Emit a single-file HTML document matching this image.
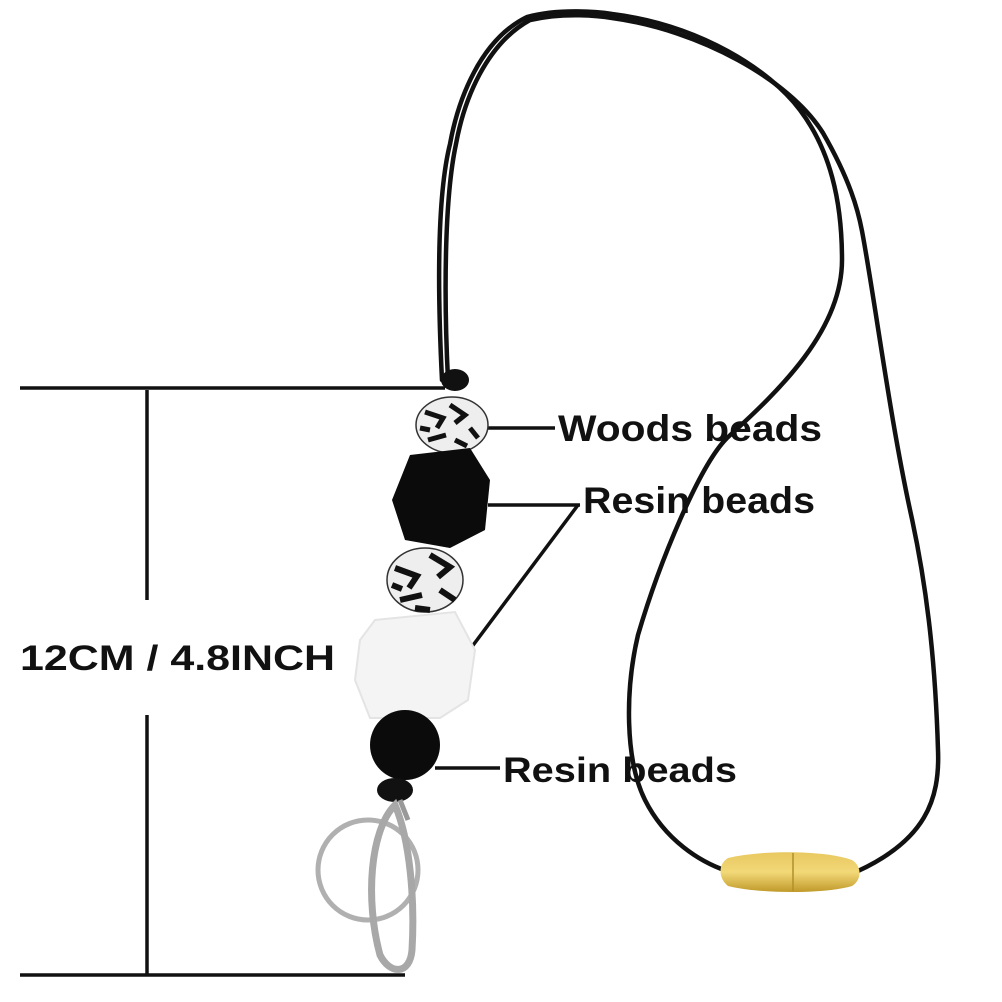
<!DOCTYPE html><html><head><style>body{margin:0;background:#fff}svg{display:block}text{font-family:"Liberation Sans",sans-serif;font-weight:bold;fill:#111}</style></head><body>
<svg width="1002" height="1002" viewBox="0 0 1002 1002">
<g fill="none" stroke="#111" stroke-width="4.5" stroke-linecap="round">
<path d="M442 380 C438 300 436 200 450 144 C458 100 480 40 527 17 C560 8 600 12 612 14 C700 25 770 70 800 110 C830 150 842 200 842 260 C842 330 780 390 727 438 C700 465 660 560 638 635 C625 690 625 760 645 800 C665 840 700 862 727 871"/>
<path d="M448 380 C444 300 444 200 456 144 C464 100 486 44 530 20 C565 12 600 16 612 18 C700 30 790 80 823 133 C850 180 858 210 862 231 C875 300 890 420 912 519 C925 580 935 650 938 750 C940 800 925 840 858 871"/>
</g>
<defs><linearGradient id="g" x1="0" y1="0" x2="0" y2="1"><stop offset="0" stop-color="#e8c860"/><stop offset="0.5" stop-color="#f2d878"/><stop offset="1" stop-color="#c09a2a"/></linearGradient></defs>
<path d="M728 858 C760 850 825 850 852 860 C862 866 862 880 852 886 C825 894 760 894 728 886 C718 878 718 864 728 858Z" fill="url(#g)"/>
<line x1="793" y1="853" x2="793" y2="891" stroke="#b0902a" stroke-width="1.5"/>
<g stroke="#111" stroke-width="3.5" fill="none">
<line x1="20" y1="388" x2="445" y2="388"/>
<line x1="20" y1="975" x2="405" y2="975"/>
<line x1="147" y1="390" x2="147" y2="600"/>
<line x1="147" y1="715" x2="147" y2="975"/>
<line x1="485" y1="428" x2="555" y2="428"/>
<line x1="488" y1="505" x2="580" y2="505"/>
<line x1="578" y1="505" x2="468" y2="652"/>
<line x1="435" y1="768" x2="500" y2="768"/>
</g>
<ellipse cx="455" cy="380" rx="14" ry="11" fill="#111"/>
<ellipse cx="452" cy="425" rx="36" ry="28" fill="#eee" stroke="#333" stroke-width="1.5"/>
<path d="M425 412 l18 6 l-6 10 M450 405 l15 10 l-10 8 M470 428 l8 10 M428 440 l18 -5 M455 440 l12 6 M420 428 l10 2" stroke="#111" stroke-width="5" fill="none"/>
<polygon points="410,455 470,448 490,480 485,530 450,548 405,540 392,500" fill="#0b0b0b"/>
<ellipse cx="425" cy="580" rx="38" ry="32" fill="#eee" stroke="#333" stroke-width="1.5"/>
<path d="M395 568 l22 8 l-8 12 M430 555 l20 12 l-12 10 M440 590 l15 10 M400 600 l22 -5 M415 608 l15 2 M392 585 l10 4" stroke="#111" stroke-width="6" fill="none"/>
<polygon points="375,620 455,612 475,650 468,700 440,718 370,718 355,680 360,640" fill="#f4f4f4" stroke="#e4e4e4" stroke-width="2"/>
<circle cx="405" cy="745" r="35" fill="#0b0b0b"/>
<ellipse cx="395" cy="790" rx="18" ry="12" fill="#111"/>
<circle cx="368" cy="870" r="50" fill="none" stroke="#b0b0b0" stroke-width="5"/>
<path d="M395 805 C370 830 365 900 380 955 C390 975 410 975 412 950 C415 900 410 840 395 805Z" fill="none" stroke="#a8a8a8" stroke-width="7"/>
<path d="M400 800 L408 820" stroke="#999" stroke-width="5"/>
<text x="20" y="670" font-size="35" textLength="315" lengthAdjust="spacingAndGlyphs">12CM / 4.8INCH</text>
<text x="558" y="441" font-size="37" textLength="264" lengthAdjust="spacingAndGlyphs">Woods beads</text>
<text x="583" y="513" font-size="37" textLength="232" lengthAdjust="spacingAndGlyphs">Resin beads</text>
<text x="503" y="782" font-size="35" textLength="234" lengthAdjust="spacingAndGlyphs">Resin beads</text>
</svg></body></html>
